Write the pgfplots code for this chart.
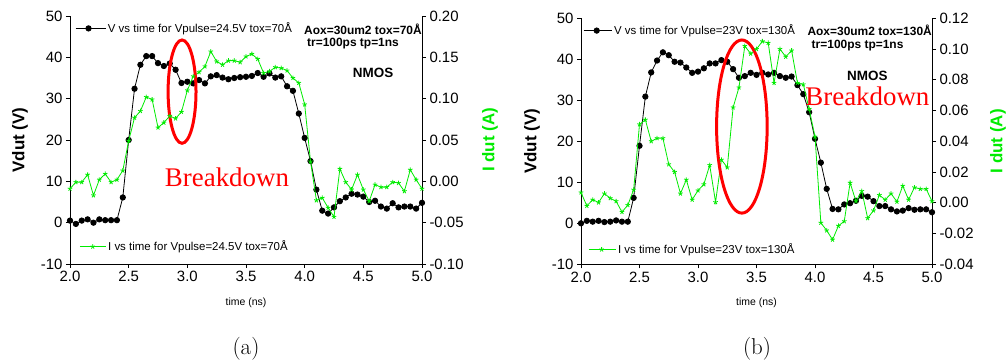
\documentclass[border=0pt]{standalone}
\usepackage{pgfplots}
\pgfplotsset{compat=1.18}
\usepackage{pgfplotstable}
\usepackage{fontspec}
\newfontfamily\arial{Liberation Sans}
\newfontfamily\tnr{Liberation Serif}
\definecolor{lgreen}{RGB}{0,235,0}

\pgfplotstableread{
t V
2.00 0.5
2.05 -0.3
2.10 0.5
2.15 0.8
2.20 0.0
2.25 0.8
2.30 0.6
2.35 0.6
2.40 0.6
2.45 6.1
2.50 20.0
2.55 32.4
2.60 38.2
2.65 40.3
2.70 40.3
2.75 38.6
2.80 37.9
2.85 38.5
2.90 37.0
2.95 33.8
3.00 34.1
3.05 33.7
3.10 34.5
3.15 33.7
3.20 35.4
3.25 35.7
3.30 35.1
3.35 34.7
3.40 35.0
3.45 35.2
3.50 35.3
3.55 35.5
3.60 36.2
3.65 35.3
3.70 36.1
3.75 35.1
3.80 35.4
3.85 33.0
3.90 31.9
3.95 26.4
4.00 20.5
4.05 14.9
4.10 8.0
4.15 2.9
4.20 2.2
4.25 3.7
4.30 5.2
4.35 6.1
4.40 7.0
4.45 6.8
4.50 6.3
4.55 5.0
4.60 5.3
4.65 3.9
4.70 3.4
4.75 4.7
4.80 3.7
4.85 3.9
4.90 3.9
4.95 3.4
5.00 4.8
}\Va

\pgfplotstableread{
t I
2.00 -0.009
2.05 -0.001
2.10 -0.001
2.15 0.008
2.20 -0.017
2.25 0.002
2.30 0.009
2.35 -0.001
2.40 0.002
2.45 0.013
2.50 0.049
2.55 0.077
2.60 0.085
2.65 0.102
2.70 0.099
2.75 0.065
2.80 0.071
2.85 0.079
2.90 0.076
2.95 0.084
3.00 0.110
3.05 0.127
3.10 0.132
3.15 0.139
3.20 0.157
3.25 0.145
3.30 0.141
3.35 0.146
3.40 0.146
3.45 0.144
3.50 0.151
3.55 0.154
3.60 0.148
3.65 0.131
3.70 0.133
3.75 0.138
3.80 0.137
3.85 0.134
3.90 0.125
3.95 0.119
4.00 0.093
4.05 0.024
4.10 -0.023
4.15 -0.020
4.20 -0.032
4.25 -0.043
4.30 0.015
4.35 -0.001
4.40 -0.010
4.45 0.008
4.50 -0.010
4.55 -0.024
4.60 -0.004
4.65 -0.007
4.70 -0.007
4.75 -0.001
4.80 -0.002
4.85 -0.012
4.90 0.014
4.95 0.002
5.00 -0.009
}\Ia

\pgfplotstableread{
t V
2.00 0.0
2.05 0.6
2.10 0.4
2.15 0.6
2.20 0.3
2.25 0.4
2.30 0.7
2.35 0.4
2.40 0.4
2.45 6.2
2.50 18.9
2.55 30.9
2.60 36.8
2.65 39.7
2.70 41.7
2.75 41.0
2.80 39.4
2.85 39.2
2.90 38.0
2.95 36.7
3.00 37.0
3.05 37.8
3.10 39.0
3.15 39.0
3.20 39.8
3.25 39.4
3.30 37.6
3.35 35.5
3.40 35.9
3.45 36.7
3.50 36.2
3.55 36.7
3.60 36.3
3.65 36.7
3.70 35.9
3.75 35.5
3.80 35.8
3.85 33.7
3.90 31.5
3.95 27.1
4.00 20.6
4.05 14.8
4.10 8.4
4.15 3.5
4.20 3.4
4.25 4.6
4.30 4.9
4.35 5.5
4.40 6.7
4.45 6.5
4.50 5.4
4.55 4.2
4.60 4.2
4.65 3.4
4.70 2.9
4.75 3.1
4.80 3.7
4.85 3.3
4.90 3.4
4.95 3.4
5.00 2.7
}\Vb

\pgfplotstableread{
t I
2.00 0.0067
2.05 -0.0020
2.10 0.0020
2.15 0.0002
2.20 0.0060
2.25 0.0030
2.30 0.0010
2.35 -0.0060
2.40 -0.0015
2.45 0.0085
2.50 0.0510
2.55 0.0540
2.60 0.0400
2.65 0.0420
2.70 0.0420
2.75 0.0250
2.80 0.0200
2.85 0.0060
2.90 0.0150
2.95 0.0020
3.00 0.0080
3.05 0.0120
3.10 0.0245
3.15 0.0004
3.20 0.0280
3.25 0.0230
3.30 0.0620
3.35 0.0750
3.40 0.1020
3.45 0.0970
3.50 0.1000
3.55 0.1050
3.60 0.1040
3.65 0.0780
3.70 0.1000
3.75 0.0950
3.80 0.0990
3.85 0.0780
3.90 0.0770
3.95 0.0610
4.00 0.0430
4.05 -0.0130
4.10 -0.0180
4.15 -0.0240
4.20 -0.0150
4.25 -0.0120
4.30 0.0130
4.35 0.0010
4.40 0.0076
4.45 -0.0100
4.50 -0.0050
4.55 0.0050
4.60 0.0020
4.65 0.0060
4.70 0.0007
4.75 0.0110
4.80 0.0020
4.85 0.0100
4.90 0.0090
4.95 0.0090
5.00 0.0010
}\Ib

\pgfplotsset{
  base/.style={
    scale only axis, anchor=south west,
    xmin=2, xmax=5,
    xtick={2,2.5,3,3.5,4,4.5,5},
    tick align=outside, major tick length=4bp,
    axis line style={line width=0.8bp},
    tick style={line width=0.8bp, black},
    ticklabel style={font=\arial\fontsize{15}{18}\selectfont},
    /pgf/number format/assume math mode=true,
    xticklabel style={/pgf/number format/.cd, fixed, fixed zerofill, precision=1},
    ylabel style={font=\arial\fontsize{17}{20}\selectfont\bfseries, anchor=center},
    xlabel style={font=\arial\fontsize{10.5}{12}\selectfont, anchor=center},
    legend style={draw=none, fill=none, inner sep=0pt, anchor=west,
      font=\arial\fontsize{11.5}{13}\selectfont, cells={anchor=west}},
  },
  vstyle/.style={black, line width=0.8bp, mark=*, mark size=2.7bp},
  istyle/.style={lgreen, line width=0.8bp, mark=star, mark size=2.4bp, mark options={line width=0.8bp}},
}
\tikzset{
  annot/.style={font=\arial\fontsize{12}{13}\selectfont\bfseries, inner sep=0pt},
  nmos/.style={font=\arial\fontsize{13.5}{15}\selectfont\bfseries, inner sep=0pt},
}

\begin{document}
\begin{tikzpicture}
\useasboundingbox (0,0) rectangle (1008bp,363bp);

% ---------- panel (a) ----------
\begin{axis}[base, at={(70bp,99bp)}, width=352bp, height=248bp,
  axis y line*=left, axis x line*=bottom,
  ymin=-10, ymax=50, ytick={-10,0,10,20,30,40,50},
  ylabel={Vdut (V)}, ylabel style={at={(axis description cs:-0.142,0.5)}},
  xlabel={time (ns)}, xlabel style={at={(axis description cs:0.5,-0.157)}},
  legend style={at={(axis description cs:0.014,0.95)}},
  legend image code/.code={\draw[mark repeat=2, mark phase=2, #1] plot coordinates {(0bp,0bp) (13bp,0bp) (30bp,0bp)};},
]
\addplot[vstyle] table[x=t, y=V] {\Va};
\legend{V vs time for Vpulse=24.5V tox=70Å}
\end{axis}

\begin{axis}[base, at={(70bp,99bp)}, width=352bp, height=248bp,
  axis y line*=right, axis x line=none,
  ymin=-0.10, ymax=0.20, ytick={-0.10,-0.05,0,0.05,0.10,0.15,0.20},
  yticklabel style={/pgf/number format/.cd, fixed, fixed zerofill, precision=2},
  ylabel={I dut (A)}, ylabel style={at={(axis description cs:1.193,0.5)}, text=lgreen},
  legend style={at={(axis description cs:0.026,0.07)}},
  legend image code/.code={\draw[mark repeat=2, mark phase=2, #1] plot coordinates {(0bp,0bp) (13bp,0bp) (26bp,0bp)};},
]
\addplot[istyle] table[x=t, y=I] {\Ia};
\legend{I vs time for Vpulse=24.5V tox=70Å}
\draw[red, line width=3bp] (axis cs:2.955,0.1085) ellipse [x radius=0.119, y radius=0.0625];
\node[annot, anchor=east] at (axis description cs:1.0,0.946) {Aox=30um2 tox=70Å};
\node[annot] at (axis description cs:0.804,0.889) {tr=100ps tp=1ns};
\node[nmos] at (axis description cs:0.861,0.769) {NMOS};
\node[text=red, font=\tnr\fontsize{27}{30}\selectfont, inner sep=0pt] at (axis description cs:0.446,0.351) {Breakdown};
\end{axis}

% ---------- panel (b) ----------
\begin{axis}[base, at={(581bp,98.7bp)}, width=351bp, height=246bp,
  axis y line*=left, axis x line*=bottom,
  ymin=-10, ymax=50, ytick={-10,0,10,20,30,40,50},
  ylabel={Vdut (V)}, ylabel style={at={(axis description cs:-0.1396,0.5)}},
  xlabel={time (ns)}, xlabel style={at={(axis description cs:0.5,-0.157)}},
  legend style={at={(axis description cs:0.006,0.95)}},
  legend image code/.code={\draw[mark repeat=2, mark phase=2, #1] plot coordinates {(0bp,0bp) (13bp,0bp) (28bp,0bp)};},
]
\addplot[vstyle] table[x=t, y=V] {\Vb};
\legend{V vs time for Vpulse=23V tox=130Å}
\end{axis}

\begin{axis}[base, at={(581bp,98.7bp)}, width=351bp, height=246bp,
  axis y line*=right, axis x line=none,
  ymin=-0.04, ymax=0.12, ytick={-0.04,-0.02,0,0.02,0.04,0.06,0.08,0.10,0.12},
  yticklabel style={/pgf/number format/.cd, fixed, fixed zerofill, precision=2},
  ylabel={I dut (A)}, ylabel style={at={(axis description cs:1.188,0.5)}, text=lgreen},
  legend style={at={(axis description cs:0.02,0.06)}},
  legend image code/.code={\draw[mark repeat=2, mark phase=2, #1] plot coordinates {(0bp,0bp) (13bp,0bp) (27bp,0bp)};},
]
\addplot[istyle] table[x=t, y=I] {\Ib};
\legend{I vs time for Vpulse=23V tox=130Å}
\draw[red, line width=3bp] (axis cs:3.375,0.0496) ellipse [x radius=0.216, y radius=0.0563];
\node[annot, anchor=east] at (axis description cs:1.0,0.950) {Aox=30um2 tox=130Å};
\node[annot] at (axis description cs:0.788,0.888) {tr=100ps tp=1ns};
\node[nmos] at (axis description cs:0.816,0.766) {NMOS};
\node[text=red, font=\tnr\fontsize{27}{30}\selectfont, inner sep=0pt] at (axis description cs:0.816,0.681) {Breakdown};
\end{axis}

\node[font=\fontsize{23}{26}\selectfont] at (246bp,14bp) {(a)};
\node[font=\fontsize{23}{26}\selectfont] at (757bp,14bp) {(b)};
\end{tikzpicture}
\end{document}
